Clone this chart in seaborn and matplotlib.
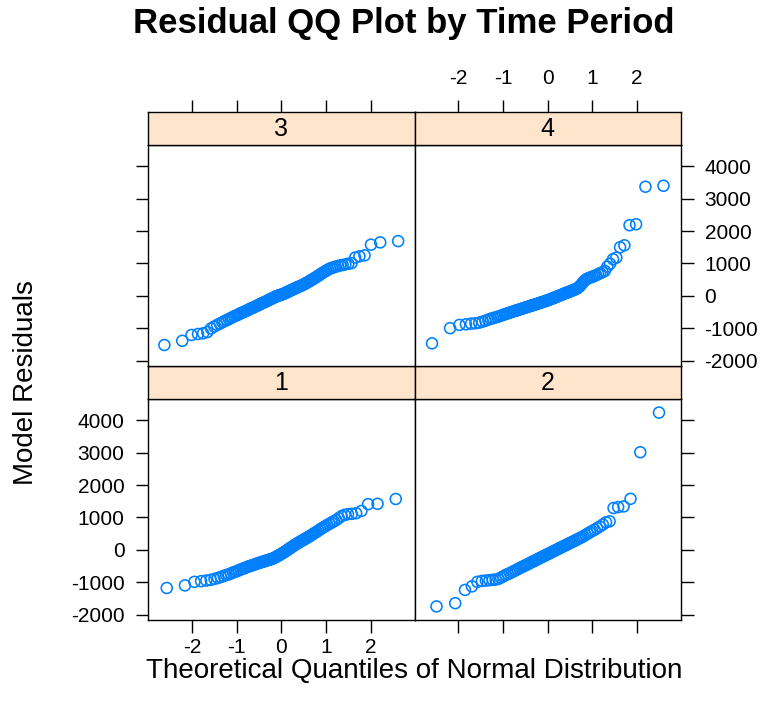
import statistics

import matplotlib
matplotlib.use("Agg")
import matplotlib.pyplot as plt
import numpy as np
import pandas as pd
import seaborn as sns

# sorted model residuals per time period
resid_1 = [-1180, -1100, -990, -970, -950, -930, -900, -870, -840, -810,
           -780, -760, -730, -700, -680, -660, -630, -610, -590, -570,
           -550, -530, -510, -500, -480, -470, -450, -440, -420, -410,
           -400, -380, -370, -360, -350, -335, -320, -310, -300, -290,
           -275, -260, -240, -220, -200, -180, -160, -140,
           -115, -95, -70, -50, -25, 0, 25, 50, 75, 100,
           125, 150, 175, 200, 220, 245, 270, 290, 310, 340,
           360, 390, 410, 440, 470, 500, 530, 560, 590, 630,
           660, 700, 730, 770, 800, 840, 880, 920, 980, 1040,
           1080, 1100, 1110, 1130, 1200, 1410, 1420, 1570]
resid_2 = [-1750, -1650, -1240, -1130, -990, -960, -950, -940, -930, -920,
           -900, -860, -820, -780, -750, -720, -690, -660, -630, -600,
           -570, -545, -520, -495, -470, -445, -420, -395, -370, -350,
           -325, -305, -280, -255, -235, -210, -190, -165, -145,
           -125, -100, -80, -55, -35, -10, 10, 35, 60, 80,
           105, 125, 150, 175, 200, 225, 250, 275, 305, 330,
           360, 390, 420, 460, 500, 540, 580, 620, 670, 720,
           780, 850, 880, 1290, 1320, 1340, 1575, 3015, 4240]
resid_3 = [-1520, -1390, -1210, -1180, -1160, -1120, -1010, -950, -900, -860,
           -820, -780, -750, -720, -690, -660, -630, -610, -590, -560,
           -540, -520, -500, -480, -460, -440, -420, -400, -380, -370,
           -350, -330, -310, -300, -280, -260, -240, -230, -210, -200,
           -180, -170, -150, -130, -120, -100, -90, -70, -60, -40,
           -30, -10, 0, 10, 20, 30,
           40, 50, 60, 80, 90, 110, 120, 140, 150, 170,
           180, 200, 210, 230, 240, 260, 270, 290, 300, 320,
           330, 350, 370, 390, 410, 430, 450, 480, 500, 520,
           550, 570, 600, 630, 660, 690, 720, 750, 780, 810,
           840, 860, 880, 900, 920, 940, 950, 970, 990, 1010,
           1180, 1220, 1250, 1580, 1650, 1690]
resid_4 = [-1470, -1000, -900, -880, -860, -850, -830, -800, -770, -740,
           -710, -690, -670, -650, -630, -610, -590, -570, -555, -540,
           -520, -505, -490, -475, -460, -450, -435, -420, -410, -395,
           -385, -370, -360, -345, -335, -325, -310, -300, -290, -280,
           -265, -255, -245, -235, -220, -210, -200, -190, -180, -165,
           -155, -145,
           -135, -120, -105, -95, -80, -65, -55, -40, -25, -10,
           0, 15, 30, 45, 60, 75, 90, 100, 115, 130,
           145, 160, 175, 195, 210, 230, 260, 300, 350, 410,
           460, 500, 530, 550, 570, 590, 610, 640, 670, 700,
           730, 770, 900, 990, 1130, 1180, 1500, 1560, 2180, 2210,
           3370, 3400]

periods = [1, 2, 3, 4]
residuals = [resid_1, resid_2, resid_3, resid_4]
x_ticks = [-2, -1, 0, 1, 2]
y_ticks = [-2000, -1000, 0, 1000, 2000, 3000, 4000]


def qq_frame(period, values):
    v = np.sort(np.asarray(values, dtype=float))
    n = len(v)
    nd = statistics.NormalDist()
    q = [nd.inv_cdf((k + 0.5) / n) for k in range(n)]
    return pd.DataFrame({"period": period, "theoretical": q, "residual": v})


df = pd.concat([qq_frame(p, r) for p, r in zip(periods, residuals)],
               ignore_index=True)

# lattice-style 7% padding on the shared scales
def padded(s, f=0.07):
    lo, hi = s.min(), s.max()
    d = (hi - lo) * f
    return lo - d, hi + d

xlim = padded(df["theoretical"])
ylim = padded(df["residual"])

sns.set_theme(style="white")
plt.rcParams["font.family"] = ["Liberation Sans", "DejaVu Sans"]
plt.rcParams["axes.unicode_minus"] = False
plt.rcParams["text.color"] = "black"

fig = plt.figure(figsize=(7.67, 7.10), dpi=100)

W, H = 767, 710
left, right = 148, 681
pw = (right - left) / 2
ph, sh = 221, 33
y0 = H - 620

strip_bg = "#FFE5CC"
blue = "#0080ff"
tick_fs = 15

# (period, col, row) with row 0 = bottom
layout = {1: (0, 0), 2: (1, 0), 3: (0, 1), 4: (1, 1)}

for period, (col, row) in layout.items():
    px = left + col * pw
    py = y0 + row * (ph + sh)
    ax = fig.add_axes([px / W, py / H, pw / W, ph / H])
    sax = fig.add_axes([px / W, (py + ph) / H, pw / W, sh / H])

    sub = df[df["period"] == period]
    sns.scatterplot(data=sub, x="theoretical", y="residual", ax=ax,
                    marker="o", s=62, legend=False)
    pts = ax.collections[-1]
    pts.set_facecolor("none")
    pts.set_edgecolor(blue)
    pts.set_linewidth(1.15)

    ax.set_xlim(xlim)
    ax.set_ylim(ylim)
    ax.set_xticks(x_ticks)
    ax.set_yticks(y_ticks)
    ax.set_xlabel("")
    ax.set_ylabel("")
    for sp in ax.spines.values():
        sp.set_color("black")
        sp.set_linewidth(1.0)

    ax.tick_params(direction="out", length=9, width=1.0, color="black",
                   labelsize=tick_fs, labelcolor="black",
                   left=False, right=False, top=False, bottom=False,
                   labelleft=False, labelright=False,
                   labeltop=False, labelbottom=False)
    ax.tick_params(axis="x", pad=4)
    ax.tick_params(axis="y", pad=8)
    if row == 0:
        ax.tick_params(bottom=True, labelbottom=(col == 0))
    if col == 0:
        ax.tick_params(left=True, labelleft=(row == 0))
    else:
        ax.tick_params(right=True, labelright=(row == 1))

    sax.set_facecolor(strip_bg)
    sax.set_xlim(xlim)
    sax.set_ylim(0, 1)
    sax.set_yticks([])
    sax.set_xticks(x_ticks)
    sax.tick_params(direction="out", length=9, width=1.0, color="black",
                    labelsize=tick_fs, pad=8, labelcolor="black",
                    bottom=False, labelbottom=False,
                    top=(row == 1), labeltop=(row == 1 and col == 1))
    for sp in sax.spines.values():
        sp.set_color("black")
        sp.set_linewidth(1.0)
    sax.text(0.5, 0.47, str(period), transform=sax.transAxes,
             ha="center", va="center", fontsize=18, color="black")

fig.text(404 / W, 1 - 23 / H, "Residual QQ Plot by Time Period",
         ha="center", va="center", fontsize=25, fontweight="bold")
fig.text(414 / W, 1 - 671 / H, "Theoretical Quantiles of Normal Distribution",
         ha="center", va="center", fontsize=20)
fig.text(26 / W, 1 - 383 / H, "Model Residuals", rotation=90,
         ha="center", va="center", fontsize=20)

fig.savefig("out.png", dpi=100, facecolor="white")
